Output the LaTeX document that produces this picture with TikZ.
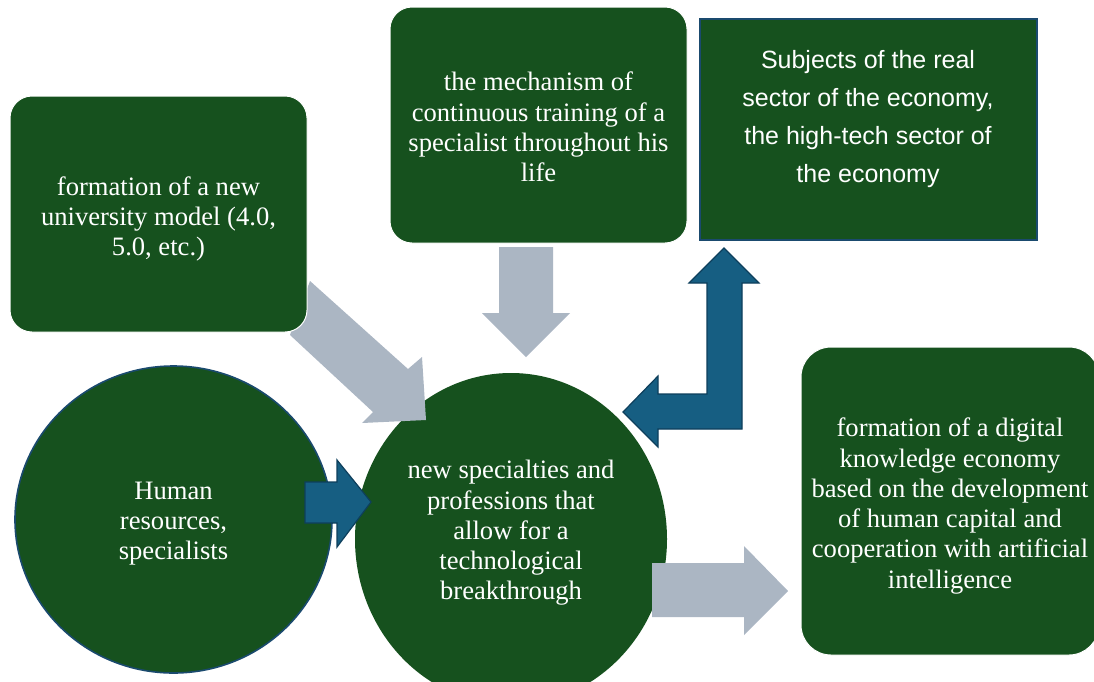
\documentclass[tikz,border=0pt]{standalone}
\usepackage{fontspec}
\setmainfont{Liberation Serif}
\newfontfamily\aptosfont{Liberation Sans}
\usetikzlibrary{shapes.geometric}
\definecolor{dkgreen}{RGB}{22,81,30}
\definecolor{arrblue}{RGB}{22,94,130}
\definecolor{arrblueline}{RGB}{14,63,92}
\definecolor{arrgray}{RGB}{171,182,195}
\definecolor{rimblue}{RGB}{26,74,110}
\tikzset{
  gbox/.style={fill=dkgreen, draw=white, line width=1pt, rounded corners=22pt, inner sep=0pt},
  sqbox/.style={fill=dkgreen, draw=rimblue, line width=2.5pt, inner sep=0pt},
  disc/.style={ellipse, fill=dkgreen, inner sep=0pt},
  serif/.style={text=white, align=center, font=\fontsize{26.6}{30.3}\selectfont, inner sep=0pt},
  sans/.style={text=white, align=center, font=\aptosfont\fontsize{25}{38}\selectfont, inner sep=0pt},
  grayarrow/.style={fill=arrgray},
  bluearrow/.style={fill=arrblue, draw=arrblueline, line width=1.2pt, line join=miter},
}
\begin{document}
\begin{tikzpicture}[x=1pt,y=-1pt]
\useasboundingbox (0,0) rectangle (1094,681);
\clip (0,0) rectangle (1094,681);
\fill[white] (0,0) rectangle (1094,681);

% circles
\node[disc, minimum width=312pt, minimum height=332pt] (mid) at (511,539) {};
\node[serif] (midtext) at (511,533) {new specialties and\\professions that\\allow for a\\technological\\breakthrough};
\node[disc, draw=rimblue, line width=1.6pt, minimum width=317pt, minimum height=307pt] (hr) at (173.5,519.5) {};
\node[serif] (hrtext) at (173.5,523.5) {Human\\resources,\\specialists};

% gray block arrows
\fill[grayarrow] (310,281) -- (408,369) -- (422,357) -- (426,420) -- (362,423) -- (373,412) -- (290,335) -- cycle;
\fill[grayarrow] (499,247) -- (553,247) -- (553,313) -- (570,313) -- (526,357) -- (482,313) -- (499,313) -- cycle;
\fill[grayarrow] (652,563) -- (744,563) -- (744,546) -- (788,591) -- (744,635) -- (744,617) -- (652,617) -- cycle;

% boxes
\node[gbox, minimum width=297pt, minimum height=236pt] (uni) at (158.5,214) {};
\node[serif] (unitext) at (158.5,219) {formation of a new\\university model (4.0,\\5.0, etc.)};
\node[gbox, minimum width=297pt, minimum height=236pt] (mech) at (538.5,125) {};
\node[serif] (mechtext) at (538.5,127) {the mechanism of\\continuous training of a\\specialist throughout his\\life};
\node[sqbox, minimum width=337pt, minimum height=221pt] (subj) at (868.5,129.5) {};
\node[sans] (subjtext) at (868,119) {Subjects of the real\\sector of the economy,\\the high-tech sector of\\the economy};
\node[gbox, rounded corners=30pt, minimum width=298pt, minimum height=308pt] (dig) at (950,501) {};
\node[serif] (digtext) at (950,506) {formation of a digital\\knowledge economy\\based on the development\\of human capital and\\cooperation with artificial\\intelligence};

% blue block arrows
\draw[bluearrow] (305,482) -- (337,482) -- (337,460) -- (371,502) -- (337,547) -- (337,523) -- (305,523) -- cycle;
\draw[bluearrow] (623,412) -- (658,376) -- (658,394) -- (707,394) -- (707,283) -- (689,283) -- (724,248) -- (759,283) -- (742,283) -- (742,429) -- (658,429) -- (658,447) -- cycle;
\end{tikzpicture}
\end{document}
